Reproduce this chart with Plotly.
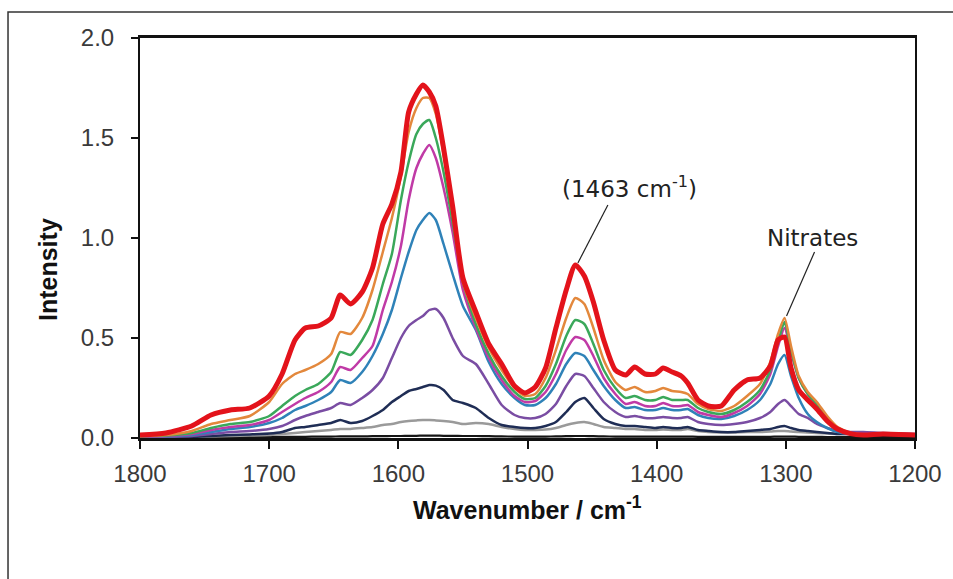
import plotly.graph_objects as go

# Wavenumber grid (cm-1)
wavenumber = [1800, 1780, 1760, 1745, 1730, 1715, 1700, 1690, 1680, 1672,
              1662, 1652, 1645, 1637, 1628, 1620, 1612, 1605, 1598, 1592,
              1586, 1581, 1576, 1571, 1565, 1558, 1550, 1540, 1530, 1520,
              1510, 1502, 1494, 1486, 1478, 1470, 1463, 1456, 1449, 1441,
              1432, 1424, 1417, 1409, 1401, 1395, 1388, 1381, 1376, 1368,
              1360, 1350, 1340, 1330, 1320, 1312, 1306, 1301, 1296, 1290,
              1283, 1276, 1268, 1260, 1250, 1240, 1225, 1200]

s_black = [0.003, 0.003, 0.004, 0.004, 0.005, 0.005, 0.005, 0.006, 0.006, 0.006,
           0.007, 0.007, 0.008, 0.008, 0.008, 0.009, 0.009, 0.010, 0.010, 0.011,
           0.011, 0.012, 0.012, 0.012, 0.011, 0.011, 0.010, 0.010, 0.009, 0.008,
           0.007, 0.007, 0.007, 0.007, 0.008, 0.009, 0.010, 0.010, 0.009, 0.008,
           0.007, 0.007, 0.007, 0.007, 0.007, 0.007, 0.007, 0.007, 0.007, 0.006,
           0.006, 0.006, 0.006, 0.006, 0.006, 0.006, 0.007, 0.007, 0.007, 0.006,
           0.006, 0.006, 0.005, 0.005, 0.005, 0.005, 0.005, 0.005]

s_gray = [0.002, 0.003, 0.005, 0.008, 0.010, 0.012, 0.015, 0.020, 0.025, 0.030,
          0.035, 0.040, 0.045, 0.045, 0.050, 0.055, 0.065, 0.070, 0.080, 0.085,
          0.088, 0.090, 0.090, 0.088, 0.085, 0.080, 0.070, 0.075, 0.070, 0.055,
          0.045, 0.040, 0.040, 0.042, 0.050, 0.065, 0.075, 0.080, 0.070, 0.055,
          0.050, 0.045, 0.045, 0.040, 0.040, 0.042, 0.040, 0.040, 0.045, 0.035,
          0.030, 0.028, 0.028, 0.030, 0.030, 0.032, 0.035, 0.035, 0.032, 0.030,
          0.028, 0.025, 0.022, 0.020, 0.020, 0.020, 0.020, 0.015]

s_navy = [0.002, 0.003, 0.005, 0.010, 0.015, 0.018, 0.022, 0.030, 0.050, 0.055,
          0.065, 0.075, 0.090, 0.075, 0.085, 0.110, 0.140, 0.180, 0.210, 0.235,
          0.245, 0.255, 0.265, 0.262, 0.240, 0.190, 0.175, 0.150, 0.100, 0.065,
          0.055, 0.050, 0.050, 0.060, 0.080, 0.130, 0.180, 0.200, 0.150, 0.095,
          0.070, 0.060, 0.060, 0.055, 0.050, 0.055, 0.050, 0.050, 0.055, 0.040,
          0.035, 0.030, 0.030, 0.035, 0.040, 0.045, 0.055, 0.060, 0.050, 0.040,
          0.035, 0.030, 0.025, 0.020, 0.020, 0.020, 0.020, 0.015]

s_purple = [0.003, 0.005, 0.010, 0.020, 0.030, 0.035, 0.045, 0.060, 0.090, 0.110,
            0.130, 0.150, 0.175, 0.165, 0.200, 0.240, 0.300, 0.400, 0.500, 0.560,
            0.590, 0.610, 0.640, 0.645, 0.600, 0.500, 0.410, 0.370, 0.270, 0.165,
            0.115, 0.100, 0.100, 0.120, 0.170, 0.260, 0.320, 0.310, 0.250, 0.180,
            0.130, 0.105, 0.110, 0.100, 0.100, 0.105, 0.100, 0.100, 0.105, 0.080,
            0.070, 0.065, 0.070, 0.080, 0.100, 0.130, 0.170, 0.190, 0.160, 0.120,
            0.100, 0.070, 0.050, 0.035, 0.030, 0.030, 0.025, 0.020]

s_blue = [0.005, 0.008, 0.015, 0.030, 0.045, 0.055, 0.075, 0.100, 0.140, 0.160,
          0.190, 0.230, 0.290, 0.275, 0.330, 0.410, 0.520, 0.640, 0.800, 0.930,
          1.040, 1.090, 1.125, 1.090, 0.970, 0.820, 0.660, 0.540, 0.380, 0.270,
          0.200, 0.165, 0.165, 0.200, 0.270, 0.370, 0.425, 0.410, 0.340, 0.260,
          0.190, 0.150, 0.155, 0.140, 0.140, 0.150, 0.140, 0.140, 0.145, 0.115,
          0.100, 0.095, 0.110, 0.140, 0.190, 0.270, 0.370, 0.415, 0.310, 0.200,
          0.120, 0.080, 0.050, 0.030, 0.020, 0.018, 0.020, 0.015]

s_magenta = [0.005, 0.010, 0.020, 0.040, 0.055, 0.065, 0.090, 0.130, 0.170, 0.200,
             0.230, 0.280, 0.355, 0.340, 0.400, 0.460, 0.640, 0.780, 0.960, 1.190,
             1.350, 1.420, 1.465, 1.400, 1.250, 1.030, 0.740, 0.550, 0.400, 0.290,
             0.210, 0.180, 0.185, 0.230, 0.320, 0.440, 0.505, 0.490, 0.410, 0.300,
             0.220, 0.170, 0.180, 0.160, 0.160, 0.175, 0.160, 0.160, 0.165, 0.130,
             0.115, 0.105, 0.125, 0.160, 0.220, 0.320, 0.460, 0.550, 0.430, 0.300,
             0.220, 0.160, 0.100, 0.050, 0.025, 0.020, 0.020, 0.015]

s_green = [0.008, 0.012, 0.025, 0.050, 0.070, 0.080, 0.110, 0.160, 0.210, 0.240,
           0.270, 0.330, 0.430, 0.415, 0.490, 0.590, 0.770, 0.920, 1.190, 1.380,
           1.520, 1.570, 1.590, 1.500, 1.330, 1.080, 0.780, 0.570, 0.420, 0.310,
           0.230, 0.195, 0.200, 0.260, 0.370, 0.510, 0.590, 0.570, 0.470, 0.340,
           0.250, 0.200, 0.210, 0.190, 0.190, 0.205, 0.190, 0.190, 0.190, 0.150,
           0.130, 0.120, 0.140, 0.180, 0.240, 0.340, 0.480, 0.580, 0.440, 0.300,
           0.220, 0.170, 0.100, 0.050, 0.025, 0.018, 0.020, 0.015]

s_orange = [0.010, 0.015, 0.035, 0.070, 0.090, 0.110, 0.180, 0.270, 0.320, 0.340,
            0.370, 0.420, 0.530, 0.520, 0.600, 0.740, 0.930, 1.100, 1.310, 1.530,
            1.650, 1.700, 1.700, 1.620, 1.420, 1.120, 0.780, 0.600, 0.450, 0.340,
            0.250, 0.210, 0.220, 0.300, 0.440, 0.600, 0.700, 0.670, 0.550, 0.390,
            0.280, 0.240, 0.255, 0.230, 0.235, 0.250, 0.235, 0.230, 0.220, 0.170,
            0.145, 0.135, 0.160, 0.210, 0.270, 0.380, 0.520, 0.600, 0.460, 0.310,
            0.230, 0.180, 0.110, 0.055, 0.025, 0.018, 0.020, 0.015]

s_red = [0.015, 0.025, 0.060, 0.115, 0.140, 0.150, 0.210, 0.320, 0.490, 0.550,
         0.560, 0.600, 0.715, 0.670, 0.730, 0.850, 1.070, 1.170, 1.330, 1.630,
         1.720, 1.765, 1.730, 1.660, 1.450, 1.160, 0.800, 0.630, 0.470, 0.370,
         0.260, 0.225, 0.255, 0.350, 0.550, 0.740, 0.865, 0.810, 0.680, 0.490,
         0.340, 0.315, 0.355, 0.320, 0.320, 0.350, 0.330, 0.310, 0.275, 0.190,
         0.160, 0.160, 0.240, 0.290, 0.300, 0.360, 0.490, 0.505, 0.350, 0.240,
         0.190, 0.145, 0.085, 0.045, 0.022, 0.015, 0.020, 0.015]

series = [
    ("black", s_black, "#151515", 2.2),
    ("gray", s_gray, "#9a9a9a", 2.5),
    ("navy", s_navy, "#1f2d55", 2.5),
    ("purple", s_purple, "#7a4da3", 2.5),
    ("blue", s_blue, "#2f82b8", 2.5),
    ("magenta", s_magenta, "#c03aa6", 2.5),
    ("green", s_green, "#3aa85a", 2.5),
    ("orange", s_orange, "#e3883c", 2.5),
    ("red", s_red, "#e3131b", 5),
]

x_ticks = [1800, 1700, 1600, 1500, 1400, 1300, 1200]
y_ticks = [0.0, 0.5, 1.0, 1.5, 2.0]

fig = go.Figure()
for name, vals, color, width in series:
    assert len(vals) == len(wavenumber), name
    fig.add_trace(go.Scatter(x=wavenumber, y=vals, mode="lines", name=name,
                             line=dict(color=color, width=width, shape="spline", smoothing=0.6),
                             showlegend=False, hoverinfo="skip"))

tick_font = dict(family="Liberation Sans, Arial, sans-serif", size=24, color="#3a3a3a")
title_font = dict(family="Liberation Sans, Arial, sans-serif", size=25, color="#111111")
note_font = dict(family="DejaVu Sans, Verdana, sans-serif", size=23, color="#222222")

fig.update_xaxes(range=[1800, 1200], tickvals=x_ticks, ticks="outside", ticklen=8,
                 tickwidth=1.5, tickcolor="#111", showline=True, linecolor="#111",
                 linewidth=2.5, mirror=True, showgrid=False, zeroline=False,
                 tickfont=tick_font, ticklabelstandoff=4)
fig.update_yaxes(range=[0, 2], tickvals=y_ticks, tickformat=".1f", ticks="outside",
                 ticklen=7, tickwidth=1.5, tickcolor="#111", showline=True,
                 linecolor="#111", linewidth=2, mirror=True, showgrid=False,
                 zeroline=False, tickfont=tick_font, ticklabelstandoff=12)

# annotation anchors taken from the data (peak of red at 1463, orange at 1301)
i_a = wavenumber.index(1463)
i_b = wavenumber.index(1301)
ax_a, ay_a = wavenumber[i_a] - 2, s_red[i_a]
ax_b, ay_b = wavenumber[i_b], s_orange[i_b]

shapes = [
    dict(type="rect", xref="paper", yref="paper", x0=-0.1703, x1=1.2, y0=-0.6, y1=1.065,
         line=dict(color="#333333", width=1.5), fillcolor="rgba(0,0,0,0)", layer="below"),
    dict(type="line", xref="x", yref="y", xsizemode="pixel", ysizemode="pixel",
         xanchor=ax_a, yanchor=ay_a, x0=0, y0=2, x1=30, y1=60,
         line=dict(color="#222", width=1.2)),
    dict(type="line", xref="x", yref="y", xsizemode="pixel", ysizemode="pixel",
         xanchor=ax_b, yanchor=ay_b, x0=2, y0=2, x1=30, y1=66,
         line=dict(color="#222", width=1.2)),
]

annotations = [
    dict(x=ax_a, y=ay_a, xref="x", yref="y", text="(1463 cm<sup>-1</sup>)",
         showarrow=False, xshift=52, yshift=78, font=note_font),
    dict(x=ax_b, y=ay_b, xref="x", yref="y", text="Nitrates",
         showarrow=False, xshift=28, yshift=80, font=note_font),
    dict(x=0.5, y=-0.175, xref="paper", yref="paper", text="<b>Wavenumber / cm<sup>-1</sup></b>",
         showarrow=False, font=title_font, xanchor="center", yanchor="middle"),
    dict(x=-0.1187, y=0.42, xref="paper", yref="paper", text="<b>Intensity</b>",
         showarrow=False, font=title_font, textangle=-90, xanchor="center", yanchor="middle"),
]

fig.update_layout(width=953, height=579, margin=dict(l=140, r=38, t=38, b=141),
                  paper_bgcolor="white", plot_bgcolor="white",
                  shapes=shapes, annotations=annotations)

fig.write_html("out.html")
